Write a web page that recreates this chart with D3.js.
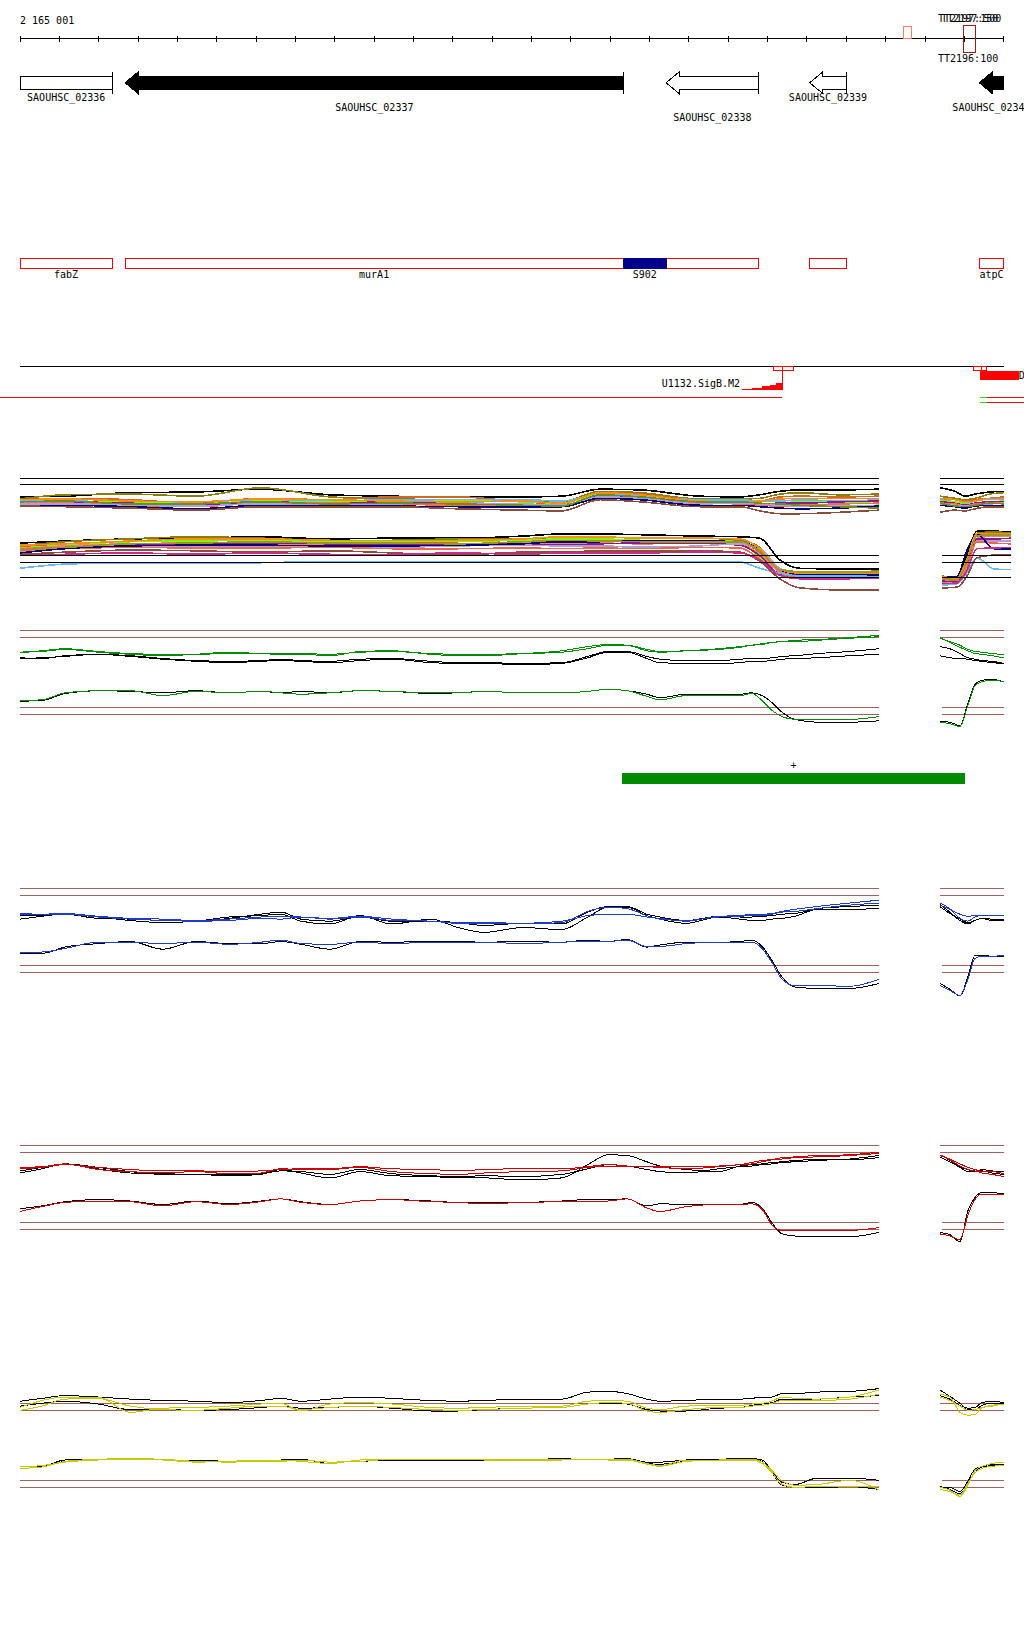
<!DOCTYPE html>
<html>
<head>
<meta charset="utf-8">
<script src="https://d3js.org/d3.v7.min.js"></script>
<style>
body { margin: 0px; background: #fff; }
text { font: 10px "DejaVu Sans Mono", monospace; fill: #000; }
</style>
</head>
<body>
<svg id="chart" width="1024" height="1640"></svg>
<script>
// region shown: 2 165 001 .. +2500 bp, ticks every 100 bp
var startLabel = "2 165 001";
var tickPos = d3.range(0, 2501, 100);

// small marks on the ruler
var ruleMarkStart = [2246, 2398];
var ruleMarkEnd = [2265, 2428];
var ruleMarkColor = ["#ff8060", "#a01818"];
var ttLabels = ["TT2197:150", "TT2197:500", "TT2196:100"];
var ttLabelPos = [2333, 2341, 2333];
var ttLabelRow = [0, 0, 1];

// genes
var geneNames = ["SAOUHSC_02336", "SAOUHSC_02337", "SAOUHSC_02338", "SAOUHSC_02339", "SAOUHSC_02340"];
var geneStart = [0, 267, 1642, 2007, 2438];
var geneEnd = [235, 1534, 1877, 2100, 2500];
var geneFilled = [false, true, false, false, true];
var geneCut = ["left", "", "", "", "right"];
var geneLabelRow = [0, 1, 2, 0, 1];

// annotation boxes
var featNames = ["fabZ", "murA1", "", "atpC"];
var featStart = [0, 267, 2007, 2438];
var featEnd = [235, 1877, 2100, 2500];
var featLabelPos = [117, 900, 0, 2469];
var blockNames = ["S902"];
var blockStart = [1534];
var blockEnd = [1642];

// promoter / motif track
var siteStart = [1915, 2424];
var siteMid = [1937, 2443];
var siteEnd = [1966, 2457];
var motifName = "U1132.SigB.M2";
var motifPos = [1835, 1860, 1886, 1906, 1921, 1937];
var motifScore = [0.15, 0.3, 0.5, 0.7, 0.95];
var transcriptStart = [-51, 2457, 2457];
var transcriptEnd = [1937, 2560, 2560];
var transcriptRow = [0, 0, 1];
var transcriptColor = ["#ff0000", "#ff0000", "#ff0000"];
var tssStart = [2440, 2440];
var tssEnd = [2457, 2457];
var tssRow = [0, 1];

// expression segment
var segStart = 1530, segEnd = 2402;

// probe positions (bp offsets)
var linePos = [0, 56, 114, 198, 280, 363, 447, 531, 612, 663, 714, 788, 864, 945, 1044, 1113, 1179, 1278, 1377, 1443, 1494, 1543, 1593, 1626, 1693, 1776, 1830, 1860, 1886, 1911, 1937, 1970, 2026, 2109, 2183];
var linePosRight = [2338, 2363, 2389, 2409, 2427, 2445, 2470, 2500];
var multiPos = [0, 114, 280, 447, 612, 788, 945, 1113, 1278, 1377, 1474, 1576, 1728, 1830, 1880, 1931, 1982, 2084, 2183];
var multiPosRight = [2338, 2376, 2402, 2427, 2465, 2500];
var multiLowPosRight = [2343, 2381, 2406, 2432, 2475, 2518];

var thresholds = [12, 11, 1, 0];
var multiThresholds = [12, 11.1, 1, 0, -2.2];

// multi-condition panel, upper probes
var multiUpColors = ["#000000", "#8b7d0b", "#d2691e", "#63b8ff", "#7cfc00", "#8b1a8b", "#ff6a50", "#a8a0d8", "#000080", "#8b4c39", "#ff8c1a", "#6b8e23"];
var multiUpLeft = [
  [9.3, 9.4, 9.9, 10.0, 10.4, 9.6, 9.4, 9.3, 9.3, 9.4, 10.4, 10.3, 9.4, 9.3, 9.6, 10.1, 10.3, 10.3, 10.4],
  [9.0, 9.6, 9.7, 9.4, 10.6, 9.3, 9.0, 8.9, 8.7, 8.6, 10.1, 9.9, 9.0, 9.0, 9.1, 9.7, 9.9, 9.6, 9.7],
  [8.9, 9.1, 8.9, 8.4, 9.1, 8.9, 9.3, 9.3, 8.6, 8.3, 9.9, 9.7, 8.9, 8.9, 8.7, 9.3, 9.4, 9.3, 9.4],
  [8.7, 8.7, 8.6, 8.6, 8.9, 8.7, 8.9, 8.9, 8.9, 8.7, 9.7, 9.4, 8.9, 8.9, 8.7, 8.7, 8.9, 8.7, 8.9],
  [8.4, 8.6, 8.6, 8.3, 8.7, 8.6, 8.6, 8.7, 8.6, 8.4, 9.6, 9.3, 8.7, 8.6, 8.3, 8.4, 8.6, 8.6, 8.3],
  [8.6, 8.6, 8.4, 8.1, 8.6, 8.4, 8.6, 8.4, 8.3, 8.1, 9.4, 9.1, 8.6, 8.4, 8.3, 8.4, 8.4, 8.6, 8.7],
  [8.4, 8.4, 8.1, 7.9, 8.4, 8.4, 8.3, 8.1, 8.1, 7.9, 9.3, 9.0, 8.4, 8.3, 8.1, 8.0, 8.1, 8.3, 8.4],
  [8.3, 8.3, 8.1, 8.0, 8.3, 8.1, 8.3, 8.4, 8.3, 8.1, 9.3, 9.1, 8.3, 8.4, 8.3, 8.1, 8.0, 8.1, 8.1],
  [8.1, 8.1, 7.9, 7.6, 8.1, 8.1, 8.0, 7.9, 7.9, 7.9, 9.1, 8.9, 8.1, 8.1, 7.9, 7.7, 7.6, 7.7, 8.0],
  [8.0, 7.9, 7.7, 7.4, 7.9, 7.9, 7.9, 7.6, 7.4, 7.3, 8.9, 8.6, 7.9, 7.9, 7.3, 6.9, 6.9, 7.1, 7.4],
  [8.9, 9.0, 8.7, 8.6, 9.0, 8.9, 8.7, 8.6, 8.7, 8.4, 9.9, 9.6, 8.7, 8.6, 8.7, 9.0, 9.1, 9.1, 9.1],
  [8.6, 8.7, 8.3, 8.3, 8.6, 8.3, 8.4, 8.3, 8.1, 8.0, 9.6, 9.3, 8.6, 8.6, 8.4, 8.3, 8.1, 7.9, 7.7]
];
var multiUpRight = [
  [10.6, 10.1, 9.4, 9.7, 10.0, 10.1],
  [9.4, 9.1, 8.9, 9.1, 9.7, 9.9],
  [9.0, 8.9, 8.7, 8.9, 9.1, 9.3],
  [8.9, 8.6, 8.4, 8.7, 9.0, 8.9],
  [8.7, 8.6, 8.3, 8.4, 8.6, 8.7],
  [8.6, 8.4, 8.1, 8.4, 8.6, 8.6],
  [8.4, 8.3, 8.0, 8.3, 8.4, 8.4],
  [8.3, 8.1, 8.1, 8.1, 8.3, 8.4],
  [8.1, 7.9, 7.7, 8.0, 8.1, 8.1],
  [7.1, 7.4, 7.3, 7.6, 7.9, 7.9],
  [9.1, 8.9, 8.6, 8.7, 9.1, 9.1],
  [8.4, 8.0, 7.9, 8.1, 8.4, 8.3]
];

// multi-condition panel, lower probes
var multiLowColors = ["#000000", "#8b7d0b", "#d2691e", "#7cfc00", "#fa8072", "#8b1a8b", "#a8a0d8", "#ff6347", "#63b8ff", "#8b4c39", "#000080", "#ff8c1a", "#cd2990", "#9a9a1a"];
var multiLowLeft = [
  [2.7, 3.0, 3.3, 3.4, 3.6, 3.3, 3.4, 3.4, 3.7, 4.0, 4.0, 3.9, 3.7, 3.6, 3.4, 0.3, -0.9, -1.0, -1.0],
  [2.3, 2.9, 3.3, 3.6, 3.4, 3.1, 3.1, 3.3, 3.3, 3.4, 3.6, 3.4, 3.4, 3.1, 2.1, -1.0, -1.4, -1.4, -1.3],
  [2.1, 2.6, 2.9, 3.1, 3.1, 3.0, 2.9, 2.9, 3.1, 3.1, 3.1, 3.1, 3.0, 2.9, 1.4, -1.3, -1.7, -1.6, -1.6],
  [2.0, 2.4, 2.9, 3.0, 3.1, 2.9, 3.0, 3.0, 3.1, 3.3, 3.3, 3.1, 3.1, 2.9, 0.6, -1.6, -1.6, -1.7, -1.7],
  [1.9, 2.3, 2.6, 2.7, 2.6, 2.6, 2.7, 2.4, 2.7, 2.7, 2.7, 2.6, 2.7, 2.6, 1.1, -1.4, -1.9, -2.0, -2.0],
  [1.6, 2.0, 2.4, 2.6, 2.7, 2.6, 2.4, 2.6, 2.6, 2.4, 2.6, 2.7, 2.7, 2.4, 0.9, -1.7, -1.9, -1.9, -2.0],
  [1.4, 2.0, 2.3, 2.1, 2.3, 2.3, 2.1, 2.3, 2.4, 2.3, 2.3, 2.1, 2.3, 2.6, 2.0, -0.9, -1.6, -1.7, -1.7],
  [1.7, 1.9, 2.1, 2.0, 2.0, 2.1, 1.9, 1.9, 2.0, 1.9, 2.0, 1.9, 2.1, 2.0, 0.4, -1.9, -2.1, -2.1, -2.1],
  [-0.9, -0.3, -0.1, -0.1, -0.1, 0.1, 0.1, 0.1, 0.1, 0.1, 0.1, 0.1, 0.1, 0.0, -0.9, -1.6, -2.0, -2.0, -2.0],
  [1.1, 1.4, 1.7, 1.6, 1.4, 1.6, 1.3, 1.0, 1.4, 1.4, 1.6, 1.6, 1.6, 1.4, 0.1, -2.4, -3.7, -4.0, -4.0],
  [1.3, 1.9, 2.3, 2.4, 2.4, 2.3, 2.3, 2.4, 2.6, 2.9, 2.9, 3.0, 3.0, 2.9, 1.7, -1.1, -1.7, -1.7, -1.9],
  [2.4, 2.6, 3.0, 3.3, 3.3, 3.1, 3.1, 3.1, 3.3, 3.6, 3.6, 3.4, 3.4, 3.3, 1.9, -1.1, -1.6, -1.6, -1.6],
  [0.9, 1.1, 1.3, 1.1, 1.3, 1.1, 1.1, 1.3, 1.1, 1.3, 1.3, 1.3, 1.4, 1.3, 0.3, -1.9, -2.4, -2.4, -2.3],
  [1.9, 2.1, 2.6, 2.7, 2.9, 2.7, 2.7, 2.6, 2.9, 3.1, 3.0, 2.9, 2.9, 2.9, 1.6, -1.1, -1.4, -1.4, -1.4]
];
var multiLowRight = [
  [-2.1, -2.3, 1.0, 4.4, 4.4, 4.3],
  [-2.0, -2.3, 0.4, 4.1, 4.3, 4.1],
  [-2.3, -2.4, -0.1, 3.9, 4.1, 4.0],
  [-2.4, -2.6, 0.1, 3.7, 3.9, 3.9],
  [-2.6, -2.7, -0.6, 3.4, 3.7, 3.6],
  [-2.7, -2.9, -0.9, 3.3, 3.3, 3.4],
  [-2.9, -3.0, -1.1, 3.1, 3.0, 3.0],
  [-3.0, -3.1, -0.9, 2.9, 2.7, 2.6],
  [-3.3, -3.1, -1.6, 0.6, -1.0, -1.1],
  [-3.7, -3.6, -2.1, 0.6, 1.0, 1.1],
  [-2.1, -2.1, 1.6, 4.0, 1.9, 1.9],
  [-2.1, -2.3, 0.3, 4.1, 4.1, 4.0],
  [-3.1, -3.0, -1.3, 1.9, 2.0, 2.1],
  [-2.4, -2.6, 0.0, 3.7, 3.9, 3.9]
];

// green panel: black up A, black up B, black low, green up A, green up B, green low
var greenColors = ["#000000", "#000000", "#000000", "#008c00", "#008c00", "#008c00"];
var greenLeft = [
  [8.1, 8.0, 8.4, 8.6, 8.4, 8.0, 7.7, 7.6, 7.7, 7.9, 7.7, 7.6, 7.9, 8.0, 7.6, 7.4, 7.4, 7.3, 7.4, 8.3, 9.0, 9.0, 8.3, 7.9, 7.7, 7.7, 7.9, 8.0, 8.0, 8.1, 8.3, 8.4, 8.7, 9.0, 9.4],
  [8.0, 8.1, 8.3, 8.6, 8.3, 7.9, 7.6, 7.4, 7.6, 7.7, 7.6, 7.4, 7.7, 7.9, 7.4, 7.3, 7.3, 7.1, 7.3, 8.1, 8.9, 8.9, 8.0, 7.4, 7.3, 7.3, 7.4, 7.6, 7.6, 7.7, 7.9, 8.0, 8.1, 8.4, 8.6],
  [1.9, 2.0, 3.0, 3.4, 3.3, 3.1, 3.4, 3.1, 3.3, 3.1, 3.3, 3.1, 3.4, 3.3, 3.0, 3.1, 3.3, 3.1, 3.1, 3.3, 3.6, 3.4, 2.9, 2.4, 2.9, 2.9, 2.9, 3.1, 2.7, 1.7, 0.3, -0.7, -1.1, -1.1, -0.9],
  [8.9, 9.0, 9.3, 8.9, 8.6, 8.4, 8.6, 8.9, 8.7, 8.6, 8.6, 8.4, 9.0, 9.1, 8.6, 8.4, 8.4, 8.7, 9.1, 9.7, 10.0, 9.9, 9.1, 8.9, 9.1, 9.4, 9.7, 9.9, 10.0, 10.3, 10.4, 10.6, 10.7, 11.0, 11.3],
  [8.9, 9.1, 9.4, 9.0, 8.7, 8.6, 8.6, 8.7, 8.7, 8.7, 8.7, 8.6, 8.9, 9.0, 8.7, 8.6, 8.6, 8.7, 8.9, 9.4, 9.9, 9.9, 9.3, 9.0, 9.1, 9.3, 9.6, 9.9, 10.1, 10.3, 10.4, 10.4, 10.6, 10.9, 11.1],
  [2.0, 2.1, 3.1, 3.4, 3.4, 2.7, 3.3, 3.1, 3.3, 3.1, 2.9, 3.1, 3.4, 3.3, 3.1, 3.1, 3.3, 3.1, 3.1, 3.3, 3.6, 3.4, 2.6, 2.1, 2.7, 2.7, 2.7, 3.0, 2.0, 0.6, -0.3, -0.7, -0.7, -0.7, -0.3]
];
var greenRight = [
  [9.7, 9.4, 8.7, 8.1, 7.9, 7.7, 7.6, 7.3],
  [8.4, 8.1, 8.0, 7.9, 7.7, 7.6, 7.4, 7.3],
  [-1.0, -1.1, -1.6, 1.6, 4.3, 4.9, 5.0, 4.7],
  [11.0, 10.3, 9.6, 9.1, 8.7, 8.6, 8.4, 8.1],
  [10.9, 10.4, 9.9, 9.3, 9.0, 8.9, 8.7, 8.6],
  [-1.1, -1.3, -1.7, 1.3, 4.1, 4.7, 4.9, 4.7]
];

// blue panel
var blueColors = ["#000000", "#000000", "#000000", "#1c3ccc", "#1c3ccc", "#1c3ccc"];
var blueLeft = [
  [7.6, 8.0, 8.4, 7.9, 7.4, 7.1, 7.3, 7.9, 8.1, 8.3, 7.3, 6.9, 8.1, 6.9, 7.6, 6.4, 5.7, 6.4, 6.1, 7.9, 9.3, 9.3, 8.1, 7.6, 7.0, 7.9, 7.6, 7.4, 7.4, 7.6, 7.7, 8.0, 9.0, 9.0, 9.1],
  [8.1, 8.1, 8.3, 7.7, 7.6, 7.4, 7.3, 7.7, 8.3, 8.6, 7.6, 7.3, 7.9, 7.3, 7.3, 7.1, 6.7, 7.0, 6.9, 8.6, 9.4, 9.4, 8.3, 7.9, 7.4, 8.0, 7.9, 7.9, 8.0, 8.1, 8.3, 8.4, 9.1, 9.4, 9.6],
  [2.7, 2.7, 3.6, 4.1, 4.4, 3.3, 4.4, 4.1, 4.1, 4.4, 4.0, 3.3, 4.4, 4.3, 4.4, 4.4, 4.3, 4.4, 4.3, 4.6, 4.4, 4.7, 3.6, 3.9, 4.3, 4.3, 4.4, 4.6, 3.7, 1.7, -0.7, -2.1, -2.3, -2.3, -1.6],
  [8.3, 8.3, 8.4, 8.0, 7.7, 7.6, 7.4, 7.6, 7.9, 8.0, 7.9, 7.7, 8.0, 7.6, 7.3, 7.1, 7.1, 7.0, 7.3, 8.1, 8.3, 8.3, 7.9, 7.7, 7.3, 8.0, 8.1, 8.3, 8.3, 8.4, 8.7, 9.0, 9.4, 9.9, 10.3],
  [8.4, 8.3, 8.3, 7.9, 7.6, 7.4, 7.3, 7.4, 7.7, 7.6, 7.9, 7.6, 7.9, 7.4, 7.3, 7.0, 7.0, 6.9, 7.1, 8.7, 9.3, 9.1, 8.1, 7.6, 7.4, 7.9, 8.0, 8.1, 8.1, 8.3, 8.6, 8.7, 9.1, 9.6, 9.9],
  [2.9, 2.9, 3.4, 4.3, 4.3, 4.1, 4.3, 4.0, 4.3, 4.6, 4.1, 4.0, 4.3, 4.1, 4.3, 4.3, 4.3, 4.1, 4.3, 4.4, 4.4, 4.6, 3.7, 3.7, 4.1, 4.3, 4.3, 4.3, 3.4, 1.4, -1.0, -1.9, -1.9, -2.0, -1.0]
];
var blueRight = [
  [9.7, 8.6, 7.4, 6.9, 7.4, 7.7, 7.4, 7.4],
  [9.4, 8.4, 7.6, 7.1, 7.4, 7.7, 7.6, 7.6],
  [-1.6, -2.4, -3.4, -0.6, 2.4, 2.4, 2.3, 2.3],
  [9.9, 9.1, 7.7, 7.3, 7.9, 8.1, 8.1, 8.1],
  [9.6, 9.0, 8.3, 8.0, 8.1, 8.1, 8.1, 8.1],
  [-1.9, -2.6, -3.3, -1.0, 2.0, 2.3, 2.3, 2.4]
];

// red panel
var redColors = ["#000000", "#000000", "#000000", "#cc0000", "#cc0000", "#cc0000"];
var redLeft = [
  [8.1, 8.7, 9.4, 8.9, 8.3, 7.9, 7.9, 7.7, 7.9, 8.6, 8.1, 7.4, 8.3, 7.7, 7.6, 7.4, 7.4, 7.1, 7.4, 9.3, 10.7, 10.6, 9.7, 9.1, 8.6, 8.3, 9.1, 9.3, 9.4, 9.6, 9.7, 9.9, 10.0, 10.0, 10.3],
  [8.4, 8.9, 9.4, 8.7, 8.1, 8.0, 7.9, 7.9, 8.0, 8.4, 8.3, 7.9, 8.6, 8.0, 7.7, 7.6, 7.7, 7.6, 7.9, 8.7, 9.3, 9.1, 8.6, 8.3, 8.1, 8.7, 9.0, 9.1, 9.3, 9.4, 9.6, 9.7, 9.9, 10.1, 10.6],
  [3.0, 3.4, 4.0, 4.3, 4.1, 3.6, 4.1, 3.7, 4.1, 4.4, 4.0, 3.6, 4.1, 4.3, 4.1, 3.9, 3.9, 3.9, 4.1, 4.3, 4.3, 4.4, 3.4, 3.7, 3.6, 3.6, 3.6, 3.9, 3.1, 1.0, -0.6, -0.9, -0.9, -1.0, -0.4],
  [8.9, 9.0, 9.4, 8.6, 8.3, 8.1, 8.3, 8.0, 8.1, 8.7, 8.6, 8.6, 8.9, 8.3, 8.0, 7.9, 8.1, 8.3, 8.4, 8.9, 9.1, 9.1, 9.0, 8.9, 8.7, 9.0, 9.3, 9.4, 9.7, 10.0, 10.3, 10.4, 10.6, 10.7, 11.1],
  [8.7, 8.9, 9.3, 8.9, 8.6, 8.4, 8.4, 8.3, 8.4, 8.6, 8.7, 8.7, 9.0, 8.7, 8.6, 8.4, 8.6, 8.7, 8.7, 9.0, 9.3, 9.1, 9.0, 9.0, 9.0, 9.1, 9.3, 9.6, 9.9, 10.0, 10.1, 10.3, 10.4, 10.6, 10.9],
  [2.6, 3.3, 3.9, 4.1, 4.0, 3.4, 4.0, 3.6, 4.0, 4.4, 3.9, 3.6, 4.1, 4.3, 4.0, 3.9, 3.7, 3.9, 4.0, 4.1, 4.1, 4.4, 3.1, 2.6, 3.3, 3.6, 3.6, 3.7, 2.9, 0.7, -0.1, -0.1, -0.1, -0.1, 0.3]
];
var redRight = [
  [10.7, 9.9, 9.0, 8.6, 8.3, 8.4, 8.1, 7.9],
  [10.4, 9.7, 8.9, 8.3, 8.3, 8.6, 8.4, 8.3],
  [-0.4, -0.7, -1.7, 2.7, 4.6, 5.3, 5.3, 5.1],
  [10.7, 10.0, 9.1, 8.6, 8.4, 8.1, 7.9, 7.6],
  [10.6, 10.1, 9.4, 8.9, 8.6, 8.3, 8.3, 8.0],
  [-0.6, -0.9, -1.4, 2.1, 4.3, 5.1, 5.1, 5.1]
];

// yellow panel: black up A, black up B, black low A, black low B, yellow up A, yellow up B, yellow low A, yellow low B
var yellowColors = ["#000000", "#000000", "#000000", "#000000", "#c8c800", "#c8c800", "#c8c800", "#c8c800"];
var yellowLeft = [
  [12.3, 12.7, 13.1, 12.9, 12.6, 12.4, 12.3, 12.1, 12.4, 12.7, 12.3, 12.6, 12.9, 12.7, 12.4, 12.3, 12.4, 12.6, 12.6, 13.6, 13.7, 13.4, 12.6, 12.3, 12.4, 12.6, 12.6, 12.7, 12.9, 12.9, 13.4, 13.4, 13.6, 13.7, 14.1],
  [11.6, 12.0, 12.3, 11.9, 11.1, 11.1, 11.0, 11.1, 11.4, 11.6, 11.3, 11.4, 11.6, 11.3, 10.9, 10.9, 11.1, 11.3, 11.4, 11.9, 12.0, 11.9, 11.1, 10.9, 10.9, 11.3, 11.4, 11.7, 11.9, 12.1, 12.6, 12.6, 12.6, 12.9, 13.1],
  [2.9, 3.0, 3.9, 4.0, 4.1, 3.9, 3.9, 3.7, 3.9, 3.9, 4.0, 3.4, 3.9, 4.0, 3.9, 4.0, 4.0, 3.9, 4.1, 3.9, 4.0, 4.1, 3.6, 3.6, 3.9, 4.0, 4.1, 4.1, 3.9, 2.3, 0.7, 0.4, 1.3, 1.3, 1.0],
  [2.7, 2.9, 3.7, 3.9, 4.0, 3.9, 3.7, 3.7, 3.9, 3.9, 3.9, 3.6, 3.7, 3.9, 3.9, 3.9, 3.9, 3.9, 4.0, 3.9, 4.0, 4.0, 3.4, 3.3, 3.7, 3.9, 4.0, 4.0, 3.7, 2.1, 0.3, 0.0, -0.1, 0.1, -0.3],
  [11.4, 12.4, 12.9, 12.9, 10.7, 11.3, 11.4, 11.6, 11.9, 12.0, 10.9, 11.9, 12.1, 11.9, 11.4, 11.3, 11.4, 11.6, 11.6, 12.3, 12.4, 12.3, 11.3, 11.1, 11.6, 11.7, 11.7, 11.9, 12.0, 12.3, 12.9, 12.7, 12.6, 12.9, 13.9],
  [11.0, 11.6, 12.6, 12.7, 11.6, 11.1, 11.0, 11.3, 11.6, 11.6, 11.1, 11.4, 11.6, 11.4, 11.1, 11.0, 11.1, 11.3, 11.4, 11.9, 12.1, 12.0, 10.9, 10.7, 11.1, 11.4, 11.4, 11.6, 11.7, 12.0, 12.4, 12.4, 12.4, 12.6, 13.3],
  [2.7, 2.9, 3.7, 4.0, 4.1, 4.0, 3.7, 3.6, 3.7, 3.7, 3.9, 3.6, 3.7, 4.0, 3.9, 4.0, 3.9, 3.9, 4.0, 3.9, 4.0, 4.0, 3.4, 3.1, 3.9, 3.9, 4.0, 4.0, 3.6, 2.4, 0.9, 0.3, 0.4, 1.0, -0.4],
  [2.9, 3.1, 3.6, 3.9, 4.0, 3.9, 3.6, 3.7, 3.9, 3.9, 3.7, 3.4, 3.9, 4.0, 4.0, 3.9, 4.0, 3.9, 3.9, 4.0, 3.9, 3.9, 3.3, 3.0, 3.7, 3.9, 3.9, 3.9, 3.4, 2.1, 0.4, 0.0, 0.1, 0.1, 0.1]
];
var yellowRight = [
  [13.9, 13.0, 12.0, 11.1, 11.1, 11.7, 12.0, 12.0],
  [13.1, 12.6, 11.7, 11.3, 11.4, 12.1, 12.3, 12.1],
  [-0.1, 0.0, -0.6, 0.9, 2.6, 3.0, 3.3, 3.1],
  [0.1, -0.3, -0.9, 0.6, 2.3, 2.9, 3.1, 3.3],
  [13.3, 12.9, 10.7, 10.3, 10.4, 11.4, 11.7, 11.9],
  [12.9, 12.4, 11.6, 11.0, 11.1, 11.4, 11.6, 11.9],
  [0.0, -0.4, -1.3, 0.3, 2.4, 3.0, 3.4, 3.6],
  [-0.3, -0.6, -1.1, 0.6, 2.1, 2.7, 3.0, 3.1]
];

var svg = d3.select("#chart");
svg.append("rect").attr("width", 1024).attr("height", 1640).attr("fill", "#fff");
var g = svg.append("g").attr("shape-rendering", "crispEdges");

var x = d3.scaleLinear().domain([0, 2500]).range([20, 1003.7]);

// ruler
g.append("text").attr("x", x(0)).attr("y", 24).text(startLabel);
g.append("line").attr("x1", x(0)).attr("x2", x(2500)).attr("y1", 38.5).attr("y2", 38.5).attr("stroke", "#000");
g.selectAll(".tick").data(tickPos).enter().append("line")
    .attr("x1", function(d) { return x(d); }).attr("x2", function(d) { return x(d); })
    .attr("y1", 35.5).attr("y2", 41.5).attr("stroke", "#000");
ruleMarkStart.forEach(function(s, i) {
  var top = i === 0 ? 26.5 : 25.5, bottom = i === 0 ? 38.5 : 52.5;
  g.append("rect").attr("x", x(s)).attr("y", top)
      .attr("width", x(ruleMarkEnd[i]) - x(s)).attr("height", bottom - top)
      .attr("fill", "none").attr("stroke", ruleMarkColor[i]);
});
ttLabels.forEach(function(t, i) {
  g.append("text").attr("x", x(ttLabelPos[i])).attr("y", ttLabelRow[i] ? 62 : 22).text(t);
});

// genes
var gy = 82.7, bodyH = 6.6, headH = 10.8, headW = 33;
var labelRowY = [101, 111, 121];
geneNames.forEach(function(name, i) {
  var x0 = x(geneStart[i]), x1 = x(geneEnd[i]), pts;
  if (geneCut[i] === "left") {
    pts = [[x0, gy - bodyH], [x1, gy - bodyH], [x1, gy + bodyH], [x0, gy + bodyH]];
  } else {
    var hx = x(geneStart[i] + headW);
    pts = [[x0, gy], [hx, gy - headH], [hx, gy - bodyH], [x1, gy - bodyH],
           [x1, gy + bodyH], [hx, gy + bodyH], [hx, gy + headH]];
  }
  g.append("polygon").attr("points", pts.map(function(p) { return p.join(","); }).join(" "))
      .attr("fill", geneFilled[i] ? "#000" : "#fff").attr("stroke", "#000");
  if (geneCut[i] !== "right")
    g.append("line").attr("x1", x1).attr("x2", x1).attr("y1", gy - headH).attr("y2", gy + headH).attr("stroke", "#000");
  g.append("text").attr("x", (x0 + x1) / 2).attr("y", labelRowY[geneLabelRow[i]])
      .attr("text-anchor", "middle").text(name);
});

// annotation boxes
featNames.forEach(function(n, i) {
  g.append("rect").attr("x", x(featStart[i])).attr("y", 258.5)
      .attr("width", x(featEnd[i]) - x(featStart[i])).attr("height", 10)
      .attr("fill", "#fff").attr("stroke", "#ff0000");
  if (n) g.append("text").attr("x", x(featLabelPos[i])).attr("y", 278)
      .attr("text-anchor", "middle").text(n);
});
blockNames.forEach(function(n, i) {
  g.append("rect").attr("x", x(blockStart[i])).attr("y", 258.5)
      .attr("width", x(blockEnd[i]) - x(blockStart[i])).attr("height", 10)
      .attr("fill", "#00008b").attr("stroke", "#00008b");
  g.append("text").attr("x", (x(blockStart[i]) + x(blockEnd[i])) / 2).attr("y", 278)
      .attr("text-anchor", "middle").text(n);
});

// promoter / motif track
g.append("line").attr("x1", x(0)).attr("x2", x(2500)).attr("y1", 366.5).attr("y2", 366.5).attr("stroke", "#000");
siteStart.forEach(function(s, i) {
  [[s, siteMid[i]], [siteMid[i], siteEnd[i]]].forEach(function(r) {
    g.append("rect").attr("x", x(r[0])).attr("y", 366.5).attr("width", x(r[1]) - x(r[0])).attr("height", 4)
        .attr("fill", "#fff").attr("stroke", "#ff0000");
  });
});
var motifScale = d3.scaleLinear().domain([0, 1]).range([0, 7]);
var stair = [[x(motifPos[0]), 389.7]];
motifScore.forEach(function(s, i) {
  stair.push([x(motifPos[i]), 389.7 - motifScale(s)]);
  stair.push([x(motifPos[i + 1]), 389.7 - motifScale(s)]);
});
stair.push([x(motifPos[motifPos.length - 1]), 389.7]);
g.append("polygon").attr("points", stair.map(function(p) { return p.join(","); }).join(" ")).attr("fill", "#ff0000");
g.append("line").attr("x1", x(1937)).attr("x2", x(1937)).attr("y1", 370.5).attr("y2", 390).attr("stroke", "#ff0000");
g.append("text").attr("x", x(1830)).attr("y", 387).attr("text-anchor", "end").text(motifName);
g.append("rect").attr("x", x(2440)).attr("y", 371).attr("width", x(2538) - x(2440)).attr("height", 9).attr("fill", "#ff0000");
g.append("text").attr("x", x(2538)).attr("y", 379).text("D");
transcriptStart.forEach(function(s, i) {
  var yy = 397.5 + transcriptRow[i] * 5;
  g.append("line").attr("x1", x(s)).attr("x2", x(transcriptEnd[i])).attr("y1", yy).attr("y2", yy).attr("stroke", transcriptColor[i]);
});
tssStart.forEach(function(s, i) {
  var yy = 397.5 + tssRow[i] * 5;
  g.append("line").attr("x1", x(s)).attr("x2", x(tssEnd[i])).attr("y1", yy).attr("y2", yy).attr("stroke", "#22dd22");
});

// expression panels
function drawThresholds(y, vals, color, leftEnd, rightRanges) {
  vals.forEach(function(v, i) {
    g.append("line").attr("x1", x(0)).attr("x2", x(leftEnd)).attr("y1", y(v)).attr("y2", y(v)).attr("stroke", color);
    var rr = rightRanges[i];
    g.append("line").attr("x1", x(rr[0])).attr("x2", x(rr[1])).attr("y1", y(v)).attr("y2", y(v)).attr("stroke", color);
  });
}
function drawLines(y, pos, series, colors, width) {
  var line = d3.line()
      .defined(function(d, i) { return pos[i] !== undefined; })
      .x(function(d, i) { return x(pos[i]); })
      .y(function(d) { return y(d); })
      .curve(d3.curveMonotoneX);
  series.forEach(function(vals, i) {
    g.append("path").attr("d", line(vals)).attr("fill", "none").attr("stroke", colors[i]).attr("stroke-width", width || 1);
  });
}
function panelScale(top) {
  return d3.scaleLinear().domain([12, 0]).range([top, top + 84]);
}

// multi-condition panel
var ym = panelScale(478);
drawLines(ym, multiPos, multiUpLeft, multiUpColors, 1.6);
drawLines(ym, multiPosRight, multiUpRight, multiUpColors, 1.6);
drawLines(ym, multiPos, multiLowLeft, multiLowColors, 1.6);
drawLines(ym, multiLowPosRight, multiLowRight, multiLowColors, 1.6);
drawThresholds(ym, multiThresholds, "#000", 2183,
  [[2338, 2500], [2338, 2500], [2343, 2518], [2343, 2518], [2343, 2518]]);

var thrRight = [[2338, 2500], [2338, 2500], [2343, 2500], [2343, 2500]];
var panels = [
  [630.5, greenLeft, greenRight, greenColors],
  [888.3, blueLeft, blueRight, blueColors],
  [1145.7, redLeft, redRight, redColors],
  [1403.3, yellowLeft, yellowRight, yellowColors]
];
panels.forEach(function(p) {
  var y = panelScale(p[0]);
  drawThresholds(y, thresholds, "#a06060", 2183, thrRight);
  drawLines(y, linePos, p[1], p[3]);
  drawLines(y, linePosRight, p[2], p[3]);
});

// expression segment bar
g.append("rect").attr("x", x(segStart)).attr("y", 773).attr("width", x(segEnd) - x(segStart)).attr("height", 10.7).attr("fill", "#008c00");
g.append("text").attr("x", (x(segStart) + x(segEnd)) / 2).attr("y", 769).attr("text-anchor", "middle").text("+");
</script>
</body>
</html>
